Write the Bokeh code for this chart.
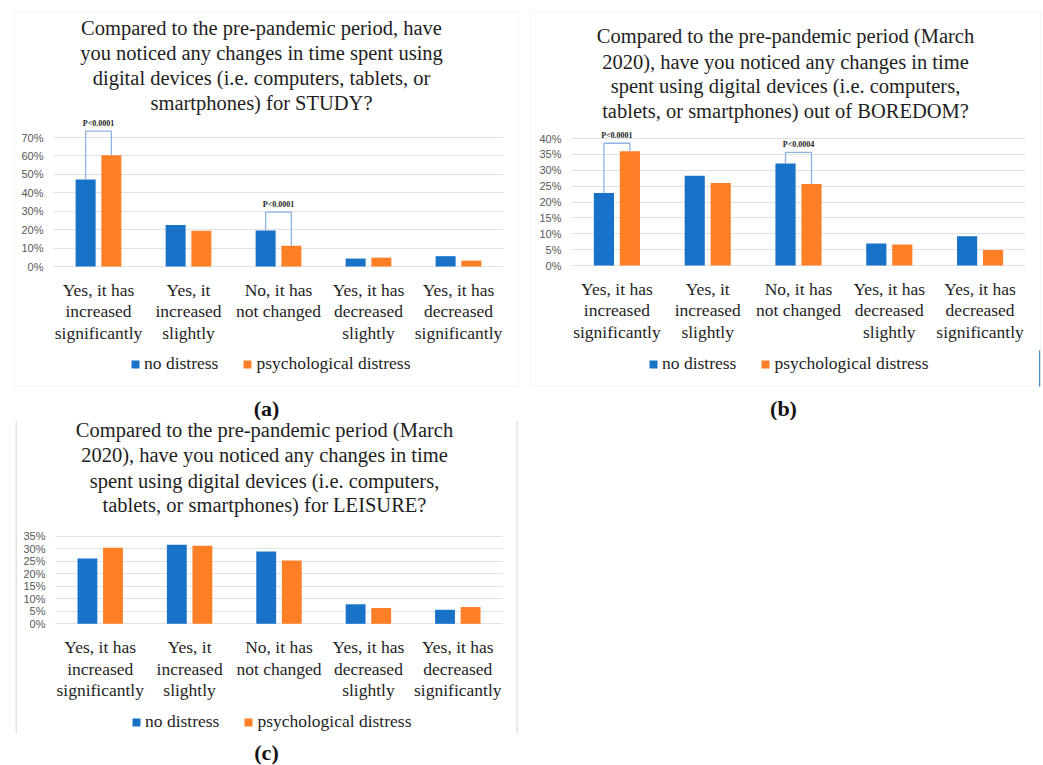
from bokeh.plotting import figure
from bokeh.models import (FixedTicker, Label, Legend, LegendItem, Grid,
                          BoxAnnotation, ColumnDataSource, Range1d)
from bokeh.transform import dodge
from bokeh.layouts import column, row
from bokeh.embed import file_html
from bokeh.resources import INLINE

# ---------------- data ----------------
categories = ["Yes, it has\nincreased\nsignificantly", "Yes, it\nincreased\nslightly",
              "No, it has\nnot changed", "Yes, it has\ndecreased\nslightly",
              "Yes, it has\ndecreased\nsignificantly"]
series = ["no distress", "psychological distress"]

study_no = [47.2, 22.5, 19.5, 4.3, 5.6]
study_psy = [60.4, 19.4, 11.2, 4.8, 3.2]
boredom_no = [22.8, 28.3, 32.1, 6.9, 9.2]
boredom_psy = [36.0, 26.0, 25.7, 6.6, 4.9]
leisure_no = [26.1, 31.6, 28.9, 7.8, 5.6]
leisure_psy = [30.4, 31.2, 25.3, 6.3, 6.7]

study_ticks = [0, 10, 20, 30, 40, 50, 60, 70]
boredom_ticks = [0, 5, 10, 15, 20, 25, 30, 35, 40]
leisure_ticks = [0, 5, 10, 15, 20, 25, 30, 35]

study_br_idx = [0, 2]
study_br_top = [73.5, 29.5]
study_br_text = ["P<0.0001", "P<0.0001"]
boredom_br_idx = [0, 2]
boredom_br_top = [38.5, 35.6]
boredom_br_text = ["P<0.0001", "P<0.0004"]

study_title = ["Compared to the pre-pandemic period, have",
               "you noticed any changes in time spent using",
               "digital devices (i.e. computers, tablets, or",
               "smartphones) for STUDY?"]
boredom_title = ["Compared to the pre-pandemic period (March",
                 "2020), have you noticed any changes in time",
                 "spent using digital devices (i.e. computers,",
                 "tablets, or smartphones) out of BOREDOM?"]
leisure_title = ["Compared to the pre-pandemic period (March",
                 "2020), have you noticed any changes in time",
                 "spent using digital devices (i.e. computers,",
                 "tablets, or smartphones) for LEISURE?"]
captions = ["(a)", "(b)", "(c)"]

BLUE = "#1872c8"
ORANGE = "#ff7f27"
BR_COLOR = "#8db3e2"
SERIF = "Liberation Serif"
TXT = "#1e1e1e"
N = len(categories)


def build(no_vals, psy_vals, ticks, title_lines, caption, br_idx, br_top, br_text, g):
    fx0, fy0, fw, fh = g["fig"]
    pl, pr, pb = g["plot"]          # page x of cat-axis start/end, page y of 0%
    px_per_x = (pr - pl) / N
    px_per_y = (pb - g["top_tick_y"]) / ticks[-1]
    x0 = -0.5 - (pl - fx0) / px_per_x
    x1 = N - 0.5 + (fx0 + fw - pr) / px_per_x
    y0 = -(fy0 + fh - pb) / px_per_y
    y1 = (pb - fy0) / px_per_y
    p = figure(width=fw, height=fh, x_range=Range1d(x0, x1), y_range=Range1d(y0, y1),
               x_axis_type=None, y_axis_type=None,
               output_backend="svg", toolbar_location=None, min_border=0)
    p.outline_line_color = None
    p.background_fill_color = "white"
    p.border_fill_color = "white"

    def sx(X):
        return X - fx0

    def sy(Y):
        return fy0 + fh - Y

    # panel box
    bx0, by0, bx1, by1 = g["box"]
    if g.get("box_full", True):
        p.add_layout(BoxAnnotation(left=sx(bx0), right=sx(bx1), top=sy(by0), bottom=sy(by1),
                                   left_units="screen", right_units="screen",
                                   top_units="screen", bottom_units="screen",
                                   fill_alpha=0, line_color="#d9d9d9", line_width=1,
                                   level="underlay"))
    else:
        for X in (bx0, bx1):
            p.add_layout(BoxAnnotation(left=sx(X), right=sx(X) + 1.5, top=sy(by0), bottom=sy(by1),
                                       left_units="screen", right_units="screen",
                                       top_units="screen", bottom_units="screen",
                                       fill_color="#e3e3e3", fill_alpha=1, line_alpha=0,
                                       level="underlay"))
    if "edge" in g:
        ex, ey0, ey1 = g["edge"]
        p.add_layout(BoxAnnotation(left=sx(ex), right=sx(ex) + 1.2, top=sy(ey0), bottom=sy(ey1),
                                   left_units="screen", right_units="screen",
                                   top_units="screen", bottom_units="screen",
                                   fill_color="#4f86c6", fill_alpha=1, line_alpha=0,
                                   level="underlay"))

    # gridlines
    grid = Grid(dimension=1, ticker=FixedTicker(ticks=ticks), cross_bounds=(-0.5, N - 0.5),
                grid_line_color="#e2e2e2", grid_line_width=1)
    p.add_layout(grid)

    # y tick labels
    tsrc = ColumnDataSource(dict(x=[-0.5] * len(ticks), y=ticks,
                                 t=["%d%%" % t for t in ticks]))
    p.text(x="x", y="y", text="t", source=tsrc, x_offset=-10, text_align="right",
           text_baseline="middle", text_font={"value": "Liberation Sans"},
           text_font_size="11px", text_color="#595959")

    # category labels
    csrc = ColumnDataSource(dict(x=list(range(N)), y=[0] * N, t=categories))
    p.text(x="x", y="y", text="t", source=csrc, y_offset=13, text_align="center",
           text_baseline="top", text_font={"value": SERIF}, text_font_size="17.5px",
           text_color=TXT, text_line_height=1.09)

    src = ColumnDataSource(dict(x=list(range(N)), no=no_vals, psy=psy_vals))
    rb = p.vbar(x=dodge("x", -0.143), top="no", width=0.222, source=src,
                fill_color=BLUE, line_color=None)
    ro = p.vbar(x=dodge("x", 0.143), top="psy", width=0.222, source=src,
                fill_color=ORANGE, line_color=None)

    for k, i in enumerate(br_idx):
        p.line(x=[i - 0.143, i - 0.143, i + 0.143, i + 0.143],
               y=[no_vals[i], br_top[k], br_top[k], psy_vals[i]],
               line_color=BR_COLOR, line_width=1.3)
        p.add_layout(Label(x=i, y=br_top[k], y_offset=8, text=br_text[k],
                           text_align="center", text_baseline="middle",
                           text_font=SERIF, text_font_style="bold",
                           text_font_size="8px", text_color=TXT))

    # title lines
    tcx = g["title_x"]
    for line, ty in zip(title_lines, g["title_y"]):
        p.add_layout(Label(x=sx(tcx), y=sy(ty), x_units="screen", y_units="screen",
                           text=line, text_align="center", text_baseline="middle",
                           text_font=SERIF, text_font_size="20.5px", text_color=TXT))

    # caption
    cx, cy = g["caption"]
    p.add_layout(Label(x=sx(cx), y=sy(cy), x_units="screen", y_units="screen",
                       text=caption, text_align="center", text_baseline="middle",
                       text_font=SERIF, text_font_size="22px", text_font_style="bold",
                       text_color="#111111"))

    # legend
    lx, lcy = g["legend"]
    leg = Legend(items=[LegendItem(label=series[0], renderers=[rb]),
                        LegendItem(label=series[1], renderers=[ro])],
                 location=(sx(lx), sy(lcy) - 10), orientation="horizontal",
                 glyph_width=10, glyph_height=10, label_standoff=4, spacing=24,
                 padding=0, margin=0, border_line_color=None, background_fill_alpha=0,
                 label_text_font=SERIF, label_text_font_size="17.5px",
                 label_text_color=TXT, label_height=10)
    p.add_layout(leg)
    return p


ga = dict(fig=(0, 0, 521, 420), plot=(53, 503, 266), top_tick_y=137,
          box=(14, 12, 518, 386), title_x=261, title_y=[27.3, 52.7, 77.3, 102.3],
          caption=(266, 408), legend=(130, 364))
gb = dict(fig=(521, 0, 522, 420), plot=(571, 1025, 265), top_tick_y=138,
          box=(530, 12, 1040, 386), title_x=785, title_y=[35.7, 61, 85.7, 110],
          caption=(783, 408), legend=(648, 364), edge=(1038.5, 350, 386))
gc = dict(fig=(0, 420, 521, 345), plot=(55, 502, 623.3), top_tick_y=535.7,
          box=(15, 420, 516, 733), box_full=False, title_x=264,
          title_y=[429.3, 454.3, 480, 504.3], caption=(266, 752), legend=(131, 722))

pa = build(study_no, study_psy, study_ticks, study_title, captions[0],
           study_br_idx, study_br_top, study_br_text, ga)
pb = build(boredom_no, boredom_psy, boredom_ticks, boredom_title, captions[1],
           boredom_br_idx, boredom_br_top, boredom_br_text, gb)
pc = build(leisure_no, leisure_psy, leisure_ticks, leisure_title, captions[2],
           [], [], [], gc)

layout = column(row(pa, pb), pc)
open("out.html", "w").write(file_html(layout, INLINE))
